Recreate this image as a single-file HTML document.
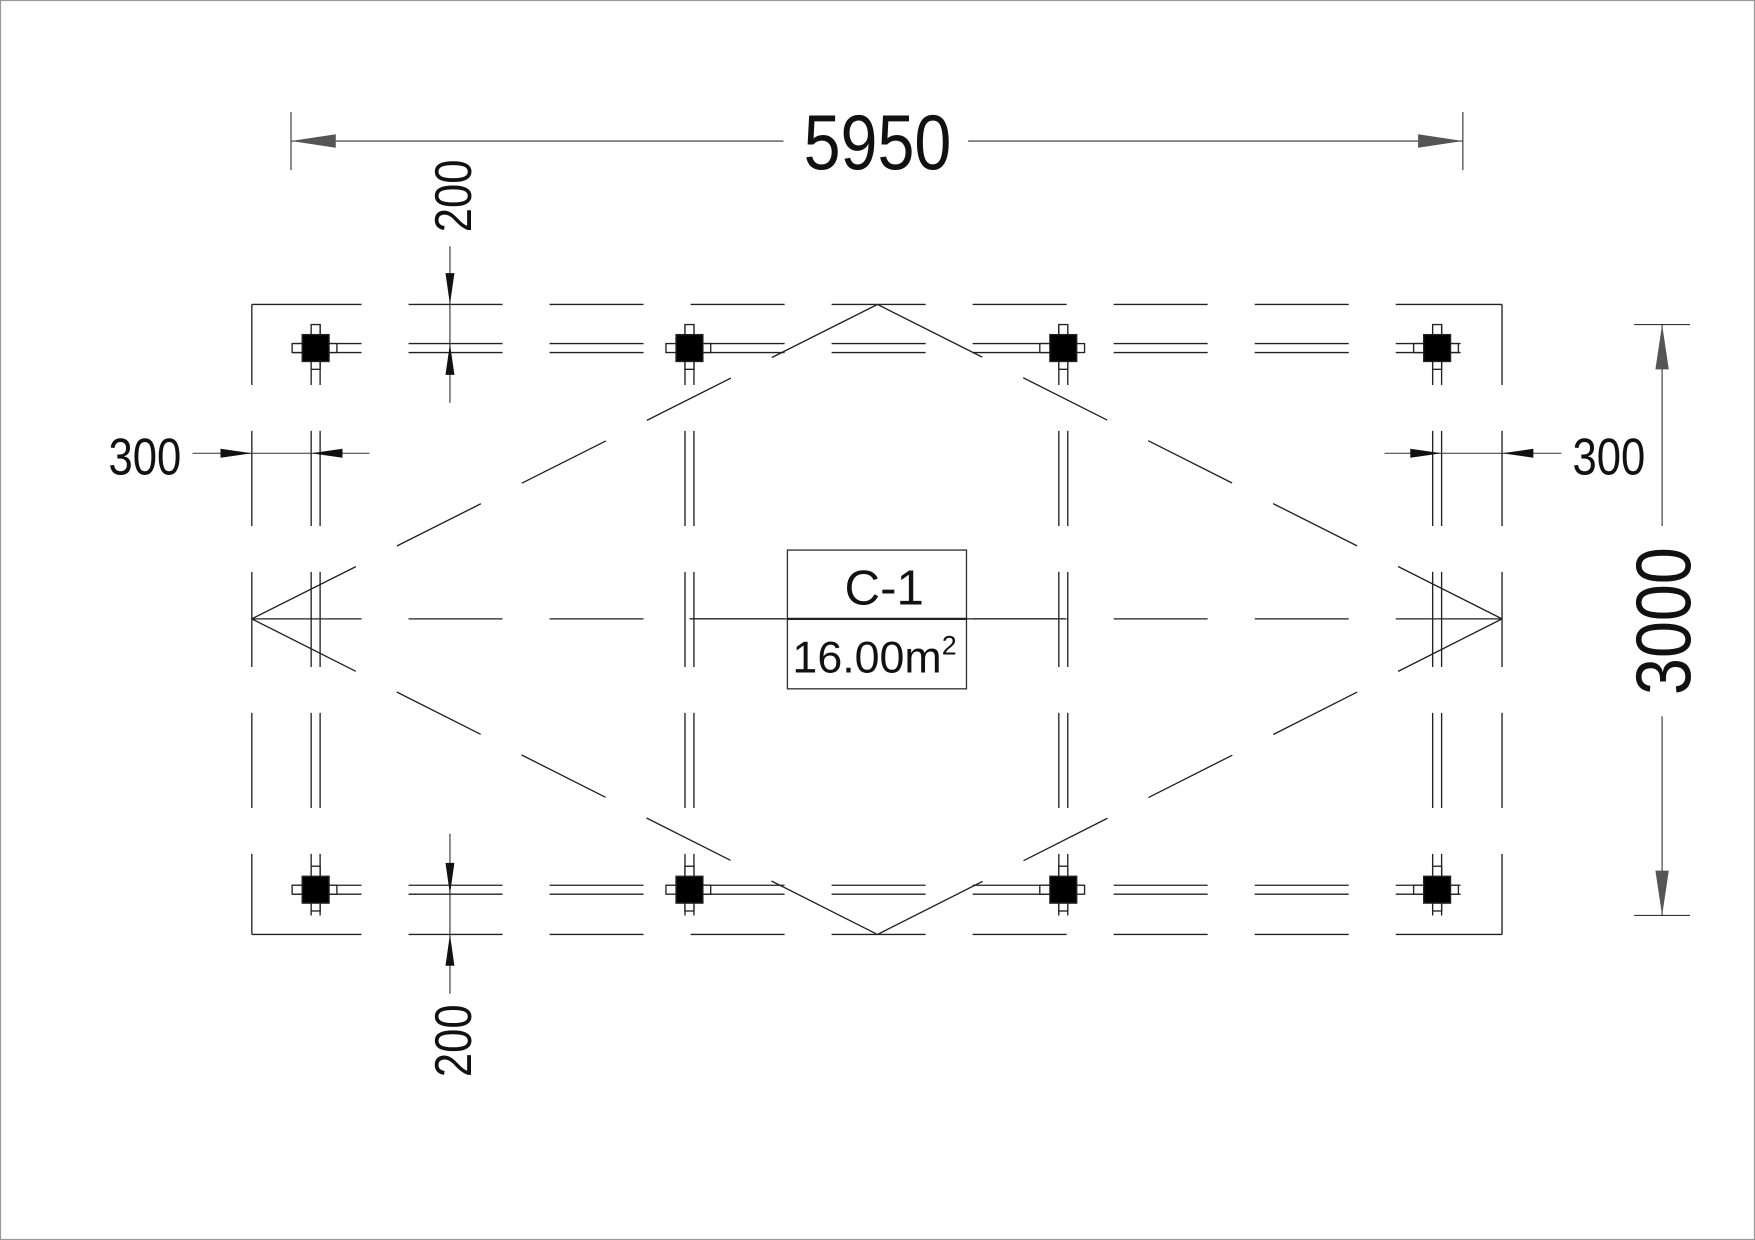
<!DOCTYPE html>
<html><head><meta charset="utf-8"><style>html,body{margin:0;padding:0;background:#fff}svg{display:block}</style></head>
<body>
<svg width="1755" height="1240" viewBox="0 0 1568 1108" preserveAspectRatio="none" xmlns="http://www.w3.org/2000/svg" font-family="Liberation Sans, sans-serif">
<rect x="0.5" y="0.5" width="1567" height="1107" fill="#fff" stroke="#999" stroke-width="1"/>
<g stroke="#222" stroke-width="1.2" fill="none">
  <g stroke-dasharray="98 42 84 42 84 42 84 42 84 42 84 42 84 42 84 42 98">
    <line x1="225" y1="272" x2="1342" y2="272"/>
    <line x1="225" y1="835" x2="1342" y2="835"/>
    <line x1="225" y1="553" x2="1342" y2="553"/>
  </g>
  <g stroke-dasharray="98 42 84 42 84 42 84 42 84 42 84 42 84 42 84 42 98" stroke-dashoffset="37">
    <line x1="262" y1="307" x2="1305" y2="307"/>
    <line x1="262" y1="315" x2="1305" y2="315"/>
    <line x1="262" y1="791" x2="1305" y2="791"/>
    <line x1="262" y1="799" x2="1305" y2="799"/>
  </g>
  <g stroke-dasharray="72 41 85 41 85 41 85 41 72">
    <line x1="225" y1="272" x2="225" y2="835"/>
    <line x1="1342" y1="272" x2="1342" y2="835"/>
  </g>
  <g stroke-dasharray="72 41 85 41 85 41 85 41 72" stroke-dashoffset="18">
    <line x1="278" y1="290" x2="278" y2="818"/><line x1="286" y1="290" x2="286" y2="818"/>
    <line x1="612" y1="290" x2="612" y2="818"/><line x1="620" y1="290" x2="620" y2="818"/>
    <line x1="946" y1="290" x2="946" y2="818"/><line x1="954" y1="290" x2="954" y2="818"/>
    <line x1="1280" y1="290" x2="1280" y2="818"/><line x1="1288" y1="290" x2="1288" y2="818"/>
  </g>
  <g stroke-dasharray="104 41 84 41 84 41 84 41 105">
    <line x1="225" y1="553" x2="784" y2="272"/>
    <line x1="225" y1="553" x2="784" y2="835"/>
    <line x1="1342" y1="553" x2="784" y2="272"/>
    <line x1="1342" y1="553" x2="784" y2="835"/>
  </g>
  <line x1="616" y1="553" x2="703" y2="553"/>
  <line x1="864" y1="553" x2="950" y2="553"/>
</g>
<g stroke="#222" stroke-width="1.2">
  <g id="c"><rect x="261" y="307" width="40" height="8" fill="#fff"/><rect x="278" y="290" width="8" height="40" fill="#fff"/><rect x="270" y="299" width="24" height="24" fill="#000"/></g>
  <use href="#c" x="334"/><use href="#c" x="668"/><use href="#c" x="1002"/>
  <use href="#c" y="484"/><use href="#c" x="334" y="484"/><use href="#c" x="668" y="484"/><use href="#c" x="1002" y="484"/>
</g>
<rect x="703.5" y="491.5" width="160" height="124" fill="#fff" stroke="#333" stroke-width="1.2"/>
<line x1="703" y1="553" x2="864" y2="553" stroke="#222" stroke-width="2"/>
<text x="790" y="540" font-size="44" text-anchor="middle" fill="#111">C-1</text>
<text x="708" y="601" font-size="40" fill="#111">16.00m<tspan font-size="24" dy="-16">2</tspan></text>
<g stroke="#333" stroke-width="1">
  <line x1="260" y1="100" x2="260" y2="152"/><line x1="1307" y1="100" x2="1307" y2="152"/>
  <line x1="260" y1="126" x2="700" y2="126"/><line x1="865" y1="126" x2="1307" y2="126"/>
  <line x1="1460" y1="290" x2="1510" y2="290"/><line x1="1460" y1="818" x2="1510" y2="818"/>
  <line x1="1485" y1="290" x2="1485" y2="470"/><line x1="1485" y1="640" x2="1485" y2="818"/>
  <line x1="172" y1="405" x2="330" y2="405"/><line x1="1237" y1="405" x2="1395" y2="405"/>
  <line x1="402" y1="220" x2="402" y2="360"/><line x1="402" y1="745" x2="402" y2="888"/>
</g>
<g fill="#555">
  <polygon points="260,126 300,120 300,132"/><polygon points="1307,126 1267,120 1267,132"/>
  <polygon points="1485,290 1479,330 1491,330"/><polygon points="1485,818 1479,778 1491,778"/>
</g>
<g fill="#111">
  <polygon points="225,405 197,401 197,409"/><polygon points="278,405 306,401 306,409"/>
  <polygon points="1288,405 1260,401 1260,409"/><polygon points="1342,405 1370,401 1370,409"/>
  <polygon points="402,272 398,244 406,244"/><polygon points="402,307 398,335 406,335"/>
  <polygon points="402,799 398,771 406,771"/><polygon points="402,835 398,863 406,863"/>
</g>
<g fill="#111">
  <text x="784" y="151" font-size="70" text-anchor="middle" textLength="132" lengthAdjust="spacingAndGlyphs">5950</text>
  <text transform="translate(1510,555) rotate(-90)" font-size="70" text-anchor="middle" textLength="132" lengthAdjust="spacingAndGlyphs">3000</text>
  <text x="97" y="424" font-size="46" textLength="65" lengthAdjust="spacingAndGlyphs">300</text>
  <text x="1405" y="424" font-size="46" textLength="65" lengthAdjust="spacingAndGlyphs">300</text>
  <text transform="translate(421,175) rotate(-90)" font-size="46" text-anchor="middle" textLength="65" lengthAdjust="spacingAndGlyphs">200</text>
  <text transform="translate(421,930) rotate(-90)" font-size="46" text-anchor="middle" textLength="65" lengthAdjust="spacingAndGlyphs">200</text>
</g>
</svg>
</body></html>
